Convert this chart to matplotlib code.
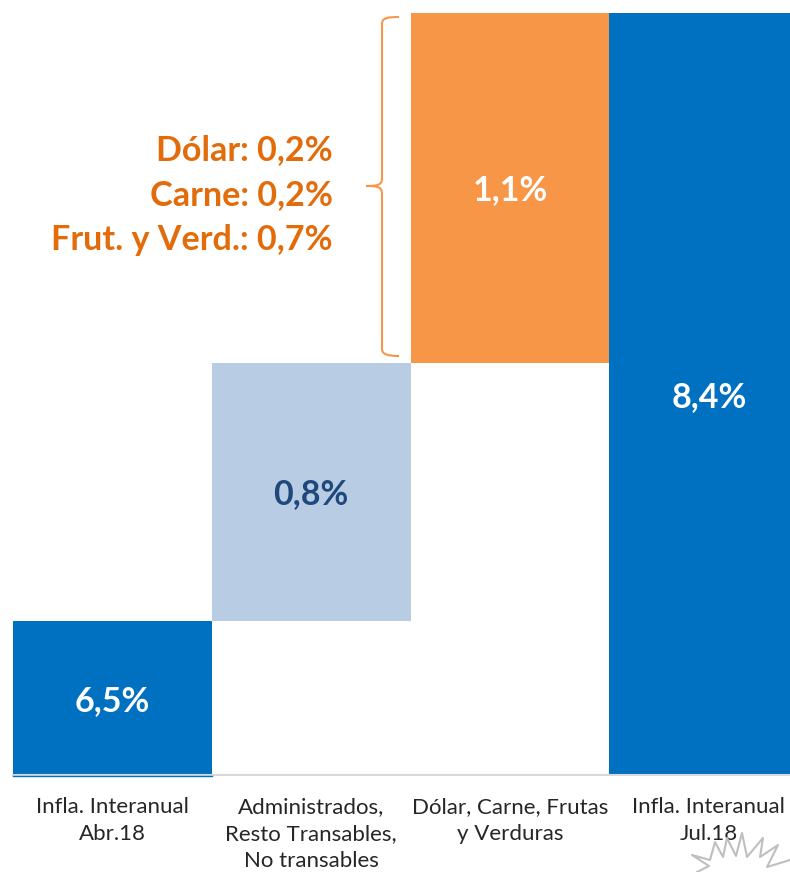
import matplotlib
matplotlib.use("Agg")
import matplotlib.pyplot as plt
from matplotlib.path import Path
from matplotlib.patches import PathPatch
from matplotlib.transforms import Affine2D

categories = ["Infla. Interanual\nAbr.18", "Administrados,\nResto Transables,\nNo transables",
              "Dólar, Carne, Frutas\ny Verduras", "Infla. Interanual\nJul.18"]
values = [6.5, 0.806, 1.094, 8.4]
bottoms = [0, 6.5, 7.306, 0]
value_labels = ["6,5%", "0,8%", "1,1%", "8,4%"]
label_y = [6.25, 6.895, 7.845, 7.2]
bar_colors = ["#0070C0", "#B8CCE4", "#F79646", "#0070C0"]
label_colors = ["white", "#1F497D", "white", "white"]
notes = ["Dólar: 0,2%", "Carne: 0,2%", "Frut. y Verd.: 0,7%"]
note_y_px = [150, 195, 240]

W, H = 790, 872
plt.rcParams["font.family"] = ["Lato", "DejaVu Sans"]
fig = plt.figure(figsize=(W / 100, H / 100), dpi=100)
base_px = 774.5
ax = fig.add_axes([13 / W, 1 - base_px / H, (W - 13) / W, base_px / H])
ax.set_xlim(-0.5, -0.5 + (W - 13) / 198.8)
ax.set_ylim(6.02, 6.02 + base_px / 320)
ax.patch.set_visible(False)

ax.bar(range(4), values, bottom=bottoms, width=1.0, color=bar_colors, linewidth=0)
for i, (t, y, c) in enumerate(zip(value_labels, label_y, label_colors)):
    ax.text(i, y, t, ha="center", va="center", color=c, fontsize=24.5, fontweight="bold")

for s in ["top", "left", "right"]:
    ax.spines[s].set_visible(False)
ax.spines["bottom"].set_color("#D9D9D9")
ax.spines["bottom"].set_linewidth(1.5)
ax.set_yticks([])
ax.set_xticks(range(4))
ax.set_xticklabels(categories, fontsize=16.0, color="#262626", linespacing=1.45)
ax.tick_params(axis="x", length=0, pad=16)

# pixel transform: (x right, y down)
px = Affine2D().scale(1, -1).translate(0, H)

# thin blue underline below first bar
fig.add_artist(plt.Line2D([13, 212], [776, 776], transform=px, color="#0070C0", lw=1))

# brace
verts = [(399, 17), (387, 17), (382, 18), (382, 24),
         (382, 178), (382, 185), (378, 186), (366, 186),
         (378, 186), (382, 187), (382, 194),
         (382, 349), (382, 354), (387, 356), (399, 356)]
codes = [Path.MOVETO, Path.CURVE4, Path.CURVE4, Path.CURVE4,
         Path.LINETO, Path.CURVE4, Path.CURVE4, Path.CURVE4,
         Path.CURVE4, Path.CURVE4, Path.CURVE4,
         Path.LINETO, Path.CURVE4, Path.CURVE4, Path.CURVE4]
fig.add_artist(PathPatch(Path(verts, codes), transform=px, fill=False,
                         edgecolor="#F79646", lw=1.5))

for t, y in zip(notes, note_y_px):
    fig.text(333 / W, 1 - y / H, t, ha="right", va="center", color="#E36C0A",
             fontsize=24.6, fontweight="bold")

# faint emblem in lower right corner
emblem = [(697, 872), (709, 866), (692, 855), (710, 860), (715, 842), (723, 857), (727, 838),
          (736, 856), (742, 833), (747, 857), (763, 838), (760, 857), (778, 845),
          (767, 867), (790, 860)]
fig.add_artist(plt.Line2D([p[0] for p in emblem], [p[1] for p in emblem], transform=px,
                          color="#BFBFBF", lw=1.5))

fig.savefig("out.png", dpi=100)
